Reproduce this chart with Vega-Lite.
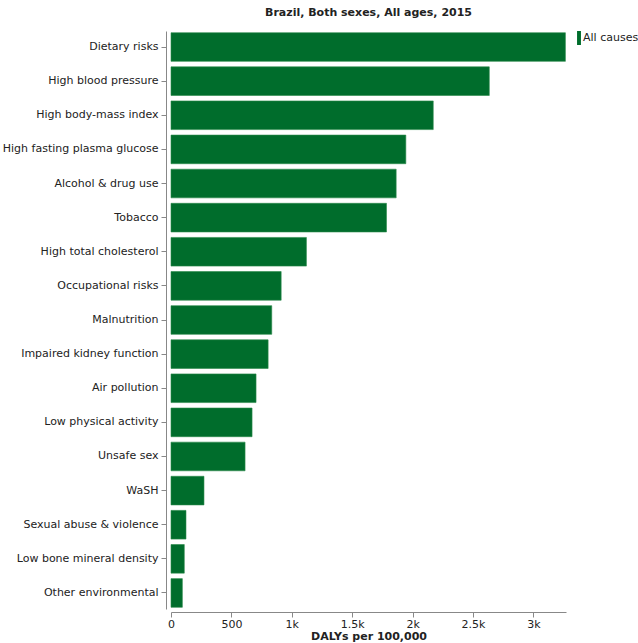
{
  "$schema": "https://vega.github.io/schema/vega-lite/v6.json",
  "width": 395,
  "height": 578,
  "autosize": "none",
  "padding": {"left": 171, "top": 31, "right": 72, "bottom": 34},
  "title": {"text": "Brazil, Both sexes, All ages, 2015", "font": "DejaVu Sans", "fontSize": 11, "fontWeight": "bold", "color": "#222", "offset": 13},
  "config": {"view": {"stroke": null}, "font": "DejaVu Sans"},
  "data": {"values": [
    {"risk": "Dietary risks", "cause": "All causes", "value": 3265},
    {"risk": "High blood pressure", "cause": "All causes", "value": 2635},
    {"risk": "High body-mass index", "cause": "All causes", "value": 2171},
    {"risk": "High fasting plasma glucose", "cause": "All causes", "value": 1944},
    {"risk": "Alcohol & drug use", "cause": "All causes", "value": 1864},
    {"risk": "Tobacco", "cause": "All causes", "value": 1784},
    {"risk": "High total cholesterol", "cause": "All causes", "value": 1121},
    {"risk": "Occupational risks", "cause": "All causes", "value": 912},
    {"risk": "Malnutrition", "cause": "All causes", "value": 834},
    {"risk": "Impaired kidney function", "cause": "All causes", "value": 804},
    {"risk": "Air pollution", "cause": "All causes", "value": 704},
    {"risk": "Low physical activity", "cause": "All causes", "value": 671},
    {"risk": "Unsafe sex", "cause": "All causes", "value": 613},
    {"risk": "WaSH", "cause": "All causes", "value": 273},
    {"risk": "Sexual abuse & violence", "cause": "All causes", "value": 124},
    {"risk": "Low bone mineral density", "cause": "All causes", "value": 110},
    {"risk": "Other environmental", "cause": "All causes", "value": 94}
  ]},
  "mark": {"type": "bar", "stroke": "#2a8a4a", "strokeWidth": 0.6},
  "encoding": {
    "y": {"field": "risk", "type": "nominal", "sort": null, "title": null,
      "scale": {"paddingInner": 0.16, "paddingOuter": 0.05},
      "axis": {"offset": 5, "domainColor": "#888", "tickColor": "#888", "tickSize": 5, "labelPadding": 3, "labelFontSize": 11, "labelColor": "#222", "labelFont": "DejaVu Sans"}},
    "x": {"field": "value", "type": "quantitative", "title": "DALYs per 100,000",
      "scale": {"domain": [0, 3270], "nice": false},
      "axis": {"offset": 3, "values": [0, 500, 1000, 1500, 2000, 2500, 3000], "labelExpr": "datum.value >= 1000 ? format(datum.value / 1000, '~') + 'k' : datum.value", "grid": false, "domainColor": "#888", "tickColor": "#888", "tickSize": 5, "labelFontSize": 11, "labelColor": "#222", "labelFlush": false, "titleFontSize": 11, "titleFontWeight": "bold", "titleColor": "#222", "titlePadding": 1, "labelPadding": 1}},
    "color": {"field": "cause", "type": "nominal", "title": null,
      "scale": {"range": ["#006d2c"]},
      "legend": {"orient": "none", "legendX": 401, "legendY": 0, "symbolType": "M-0.28,-1H0.28V1H-0.28Z", "symbolSize": 196, "symbolStrokeWidth": 0, "symbolOpacity": 1, "labelFontSize": 11, "labelColor": "#222", "labelOffset": -3}}
  }
}
